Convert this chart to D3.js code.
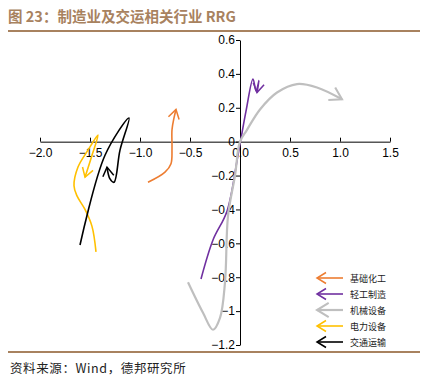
<!DOCTYPE html>
<html>
<head>
<meta charset="utf-8">
<script src="https://cdn.jsdelivr.net/npm/d3@7"></script>
<style>
  body { margin: 0; background: #fff; }
  svg { display: block; }
</style>
</head>
<body>
<svg id="chart" width="427" height="387"></svg>
<script>
// series names and colours
const names = ['基础化工', '轻工制造', '机械设备', '电力设备', '交通运输']
const colors = ['#ED7D31', '#7030A0', '#BFBFBF', '#FFC000', '#000000']

// tails, [relative strength, momentum], oldest first
const chem = [[-0.92,-0.24],[-0.75,-0.18],[-0.69,-0.13],[-0.68,-0.04],[-0.68,0.07],[-0.66,0.14],[-0.64,0.19]]
const light = [[-0.39,-0.81],[-0.27,-0.58],[-0.13,-0.41],[-0.02,-0.08],[0.06,0.18],[0.13,0.37],[0.16,0.30],[0.19,0.36],[0.17,0.29]]
const machine = [[-0.52,-0.83],[-0.37,-1.01],[-0.27,-1.11],[-0.2,-1.04],[-0.15,-0.83],[-0.12,-0.44],[-0.05,-0.2],[0,0],[0.07,0.07],[0.2,0.19],[0.37,0.29],[0.57,0.34],[0.77,0.32],[1.02,0.25]]
const power = [[-1.44,-0.65],[-1.48,-0.50],[-1.55,-0.40],[-1.63,-0.32],[-1.66,-0.26],[-1.62,-0.15],[-1.52,-0.05],[-1.42,0.04],[-1.48,-0.08],[-1.55,-0.21]]
const transport = [[-1.60,-0.61],[-1.35,-0.08],[-1.11,0.14],[-1.2,-0.05],[-1.26,-0.24],[-1.30,-0.22],[-1.33,-0.15]]
const series = [chem, light, machine, power, transport]

const xTicks = [-2, -1.5, -1, -0.5, 0, 0.5, 1, 1.5]
const yTicks = [0.6, 0.4, 0.2, 0, -0.2, -0.4, -0.6, -0.8, -1, -1.2]

const svg = d3.select('#chart')
const brown = '#A8825F'

/**
 * @Header
 */
svg.append('text')
  .attr('x', 8).attr('y', 22)
  .attr('fill', brown)
  .style('font-family', '"Noto Sans CJK SC", sans-serif')
  .style('font-weight', 'bold')
  .style('font-size', '14.5px')
  .text('图 23：制造业及交运相关行业 RRG')

svg.append('line')
  .attr('x1', 8).attr('x2', 420).attr('y1', 31).attr('y2', 31)
  .attr('stroke', brown).attr('stroke-width', 2)

svg.append('line')
  .attr('x1', 8).attr('x2', 420).attr('y1', 352).attr('y2', 352)
  .attr('stroke', brown).attr('stroke-width', 2)

svg.append('text')
  .attr('x', 10).attr('y', 373)
  .attr('fill', '#222')
  .style('font-family', '"Noto Sans CJK SC", sans-serif')
  .style('font-size', '12.5px')
  .style('letter-spacing', '0.6px')
  .text('资料来源：Wind，德邦研究所')

/**
 * @Scales
 */
const x = d3.scaleLinear().domain([-2, 1.5]).range([40, 390])
const y = d3.scaleLinear().domain([-1.2, 0.6]).range([345, 40])

// x axis through y=0, ticks pointing up, labels under
const xAxis = svg.append('g')
  .attr('transform', `translate(0,${y(0)})`)
  .call(d3.axisBottom(x).tickValues(xTicks).tickSize(0).tickSizeOuter(0).tickFormat(d3.format('.1f')))
xAxis.selectAll('.tick line').attr('y2', -4)
xAxis.selectAll('.tick text').attr('dy', '1.05em')

const yAxis = svg.append('g')
  .attr('transform', `translate(${x(0)},0)`)
  .call(d3.axisLeft(y).tickValues(yTicks).tickSize(4).tickSizeOuter(0).tickFormat(d => d3.format('~g')(d)))

svg.selectAll('.domain').attr('stroke', '#000')
svg.selectAll('.tick line').attr('stroke', '#000')
svg.selectAll('.tick text')
  .attr('fill', '#000')
  .style('font-family', '"Liberation Sans", Arial, sans-serif')
  .style('font-size', '12px')
yAxis.selectAll('.tick text').attr('x', -5)

/**
 * @Markers
 */
const defs = svg.append('defs')
colors.forEach((c, i) => {
  const size = i === 2 ? 13 : 10
  defs.append('marker')
    .attr('id', 'arr' + i)
    .attr('markerUnits', 'userSpaceOnUse')
    .attr('viewBox', '-12 -7 14 14')
    .attr('refX', 0).attr('refY', 0)
    .attr('markerWidth', size * 1.4).attr('markerHeight', size * 1.4)
    .attr('orient', 'auto')
    .append('path')
    .attr('d', 'M-9,-5.5L0,0L-9,5.5')
    .attr('fill', 'none')
    .attr('stroke', c)
    .attr('stroke-width', i === 2 ? 1.6 : 1.5)
})

/**
 * @Tails
 */
const line = d3.line()
  .x(d => x(d[0]))
  .y(d => y(d[1]))
  .curve(d3.curveCatmullRom.alpha(0.5))

svg.append('g')
  .selectAll('path')
  .data(series)
  .enter()
  .append('path')
  .attr('d', d => line(d))
  .attr('fill', 'none')
  .attr('stroke', (d, i) => colors[i])
  .attr('stroke-width', (d, i) => i === 2 ? 2.2 : 1.6)
  .attr('marker-end', (d, i) => `url(#arr${i})`)

/**
 * @Legend
 */
const legend = svg.append('g')
  .selectAll('g')
  .data(names)
  .enter()
  .append('g')
  .attr('transform', (d, i) => `translate(315,${278 + i * 16})`)

legend.append('line')
  .attr('x1', 28).attr('x2', 2).attr('y1', 0).attr('y2', 0)
  .attr('stroke', (d, i) => colors[i])
  .attr('stroke-width', (d, i) => i === 2 ? 2.2 : 1.6)
  .attr('marker-end', (d, i) => `url(#arr${i})`)

legend.append('text')
  .attr('x', 35).attr('y', 3.5)
  .attr('fill', '#222')
  .style('font-family', '"Noto Sans CJK SC", sans-serif')
  .style('font-size', '9px')
  .text(d => d)
</script>
</body>
</html>
